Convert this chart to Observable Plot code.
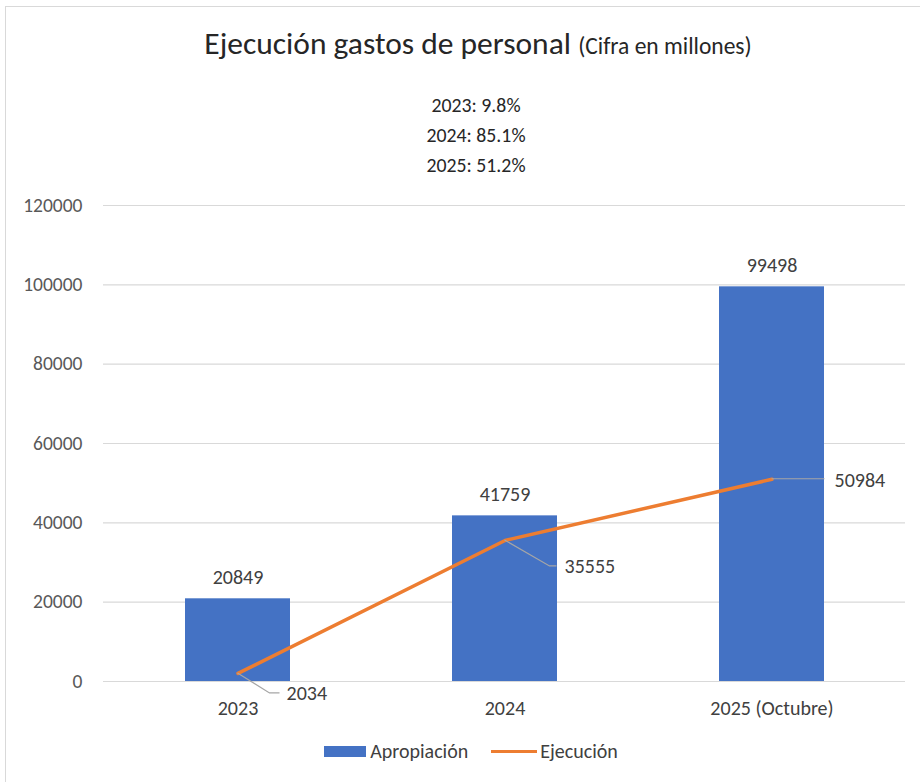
<!DOCTYPE html>
<html><head><meta charset="utf-8">
<script src="https://cdn.jsdelivr.net/npm/d3@7"></script>
<script src="https://cdn.jsdelivr.net/npm/@observablehq/plot@0.6"></script>
<style>
body{margin:0;background:#fff;}
#wrap{position:relative;width:920px;height:782px;overflow:hidden;background:#fff;font-family:Carlito,"Liberation Sans Narrow","Open Sans",sans-serif;color:#404040;}
#frame{position:absolute;left:5px;top:6px;width:930px;height:800px;border-left:1.5px solid #d9d9d9;border-top:1.5px solid #d9d9d9;}
#title{position:absolute;top:24px;left:18px;width:920px;text-align:center;font-size:31.5px;color:#262626;white-space:nowrap;}
#title small{font-size:23.5px;}
#sub{position:absolute;top:90px;left:16px;width:920px;text-align:center;font-size:19.8px;line-height:30px;color:#262626;}
#chart{position:absolute;left:0;top:185px;}
#legend{position:absolute;top:739px;left:11px;width:920px;display:flex;justify-content:center;align-items:center;font-size:20px;color:#404040;}
.sw{display:inline-block;}
</style></head>
<body><div id="wrap"><div id="frame"></div>
<div id="title">Ejecución gastos de personal <small>(Cifra en millones)</small></div>
<div id="sub"></div>
<div id="chart"></div>
<div id="legend"></div>
</div>
<script>
const categories = ["2023", "2024", "2025 (Octubre)"];
const apropiacion = [20849, 41759, 99498];
const ejecucion = [2034, 35555, 50984];
const pctLabels = ["2023: 9.8%", "2024: 85.1%", "2025: 51.2%"];
const yTicks = [0, 20000, 40000, 60000, 80000, 100000, 120000];
const seriesNames = ["Apropiación", "Ejecución"];
const colors = ["#4472C4", "#ED7D31"];

document.getElementById("sub").innerHTML = pctLabels.join("<br>");

const data = categories.map((c, i) => ({cat: c, a: apropiacion[i], e: ejecucion[i]}));
// label leader offsets per point (px): [dx1, dy1, dx2, textDx, textDy]
const leaders = [[32, 20, 42, 49, 20], [45, 26, 52, 60, 26], [0, 0, 53, 63, 1]];

const font = 'Carlito,"Liberation Sans Narrow","Open Sans",sans-serif';

function leaderMark(index, scales, values, dimensions) {
  const g = d3.create("svg:g");
  data.forEach((d, i) => {
    const x = scales.x(d.cat) + scales.x.bandwidth() / 2;
    const y = scales.y(d.e);
    const [dx1, dy1, dx2, tdx, tdy] = leaders[i];
    g.append("path")
      .attr("d", `M${x},${y}L${x + dx1},${y + dy1}L${x + dx2},${y + dy1}`)
      .attr("fill", "none").attr("stroke", "#a6a6a6").attr("stroke-width", 1.2);
    g.append("text")
      .attr("x", x + tdx).attr("y", y + tdy)
      .attr("dy", "0.35em")
      .attr("text-anchor", "start")
      .attr("font-size", 20).attr("fill", "#404040")
      .attr("font-family", font)
      .text(String(d.e));
  });
  return g.node();
}

const plot = Plot.plot({
  width: 920,
  height: 545,
  marginLeft: 103,
  marginRight: 15,
  marginTop: 20,
  marginBottom: 49,
  style: {fontFamily: font, background: "transparent"},
  x: {domain: categories, padding: 0, label: null},
  y: {domain: [0, 120000], label: null},
  marks: [
    Plot.gridY(yTicks, {stroke: "#d9d9d9", strokeOpacity: 1, strokeWidth: 1.2}),
    Plot.axisY(yTicks, {tickSize: 0, tickPadding: 21, fontSize: 19.5, fill: "#595959", tickFormat: d => String(d), label: null}),
    Plot.axisX({tickSize: 0, tickPadding: 19, fontSize: 20, fill: "#404040", label: null}),
    Plot.barY(data, {x: "cat", y: "a", fill: colors[0], insetLeft: 81, insetRight: 81}),
    Plot.text(data, {x: "cat", y: "a", text: d => String(d.a), dy: -21, fontSize: 20, fill: "#404040"}),
    Plot.line(data, {x: "cat", y: "e", stroke: colors[1], strokeWidth: 3.5}),
    leaderMark
  ]
});
document.getElementById("chart").appendChild(plot);

const lg = d3.select("#legend");
const it1 = lg.append("span").style("display", "flex").style("align-items", "center").style("margin-right", "23px");
it1.append("span").attr("class", "sw").style("width", "42px").style("height", "11px").style("background", colors[0]).style("margin-right", "4px");
it1.append("span").text(seriesNames[0]);
const it2 = lg.append("span").style("display", "flex").style("align-items", "center");
it2.append("span").attr("class", "sw").style("width", "46px").style("height", "3px").style("background", colors[1]).style("margin-right", "3px");
it2.append("span").text(seriesNames[1]);
</script></body></html>
